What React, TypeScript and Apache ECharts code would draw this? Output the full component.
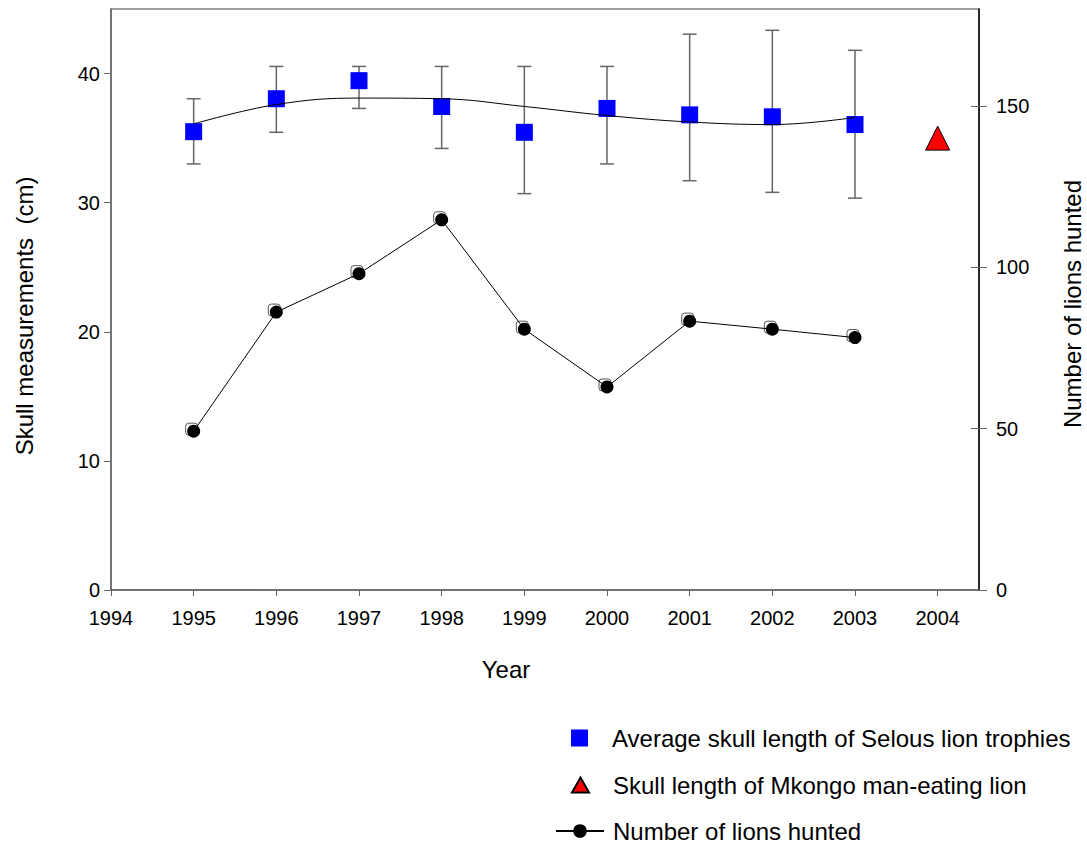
import React, { useEffect, useRef } from "react";
import * as echarts from "echarts";

const years = [1995, 1996, 1997, 1998, 1999, 2000, 2001, 2002, 2003];
const skullMean = [35.5, 38.05, 39.45, 37.45, 35.45, 37.3, 36.8, 36.65, 36.05];
const skullHigh = [38.05, 40.55, 40.55, 40.55, 40.55, 40.55, 43.05, 43.35, 41.8];
const skullLow = [33.0, 35.45, 37.3, 34.2, 30.7, 33.0, 31.7, 30.8, 30.35];
const skullTrend = [36.1, 37.6, 38.1, 38.05, 37.45, 36.75, 36.25, 36.05, 36.6];
const mkongoYear = [2004];
const mkongoSkull = [35.0];
const lionsHunted = [49.2, 86.1, 98.0, 114.7, 80.8, 62.9, 83.3, 80.8, 78.2];
const xTicks = [1994, 1995, 1996, 1997, 1998, 1999, 2000, 2001, 2002, 2003, 2004];
const leftTicks = [0, 10, 20, 30, 40];
const rightTicks = [0, 50, 100, 150];

const NAME_AVG = "Average skull length of Selous lion trophies";
const NAME_MK = "Skull length of Mkongo man-eating lion";
const NAME_LIONS = "Number of lions hunted";

const FONT = "Liberation Sans, Arial, sans-serif";

export default function App() {
  const ref = useRef<HTMLDivElement>(null);
  useEffect(() => {
    document.body.style.margin = "0";
    if (!ref.current) return;
    const chart = echarts.init(ref.current, null, { renderer: "svg" });
    const fmt = (v: number) => (Number.isInteger(v) ? String(v) : "");
    const legendText = (pad: number) => ({
      fontSize: 24,
      color: "#000",
      fontFamily: FONT,
      padding: [0, 0, 0, pad],
    });
    chart.setOption({
      animation: false,
      backgroundColor: "#ffffff",
      textStyle: { fontFamily: FONT },
      grid: {
        left: 111,
        top: 9,
        width: 868,
        height: 581,
        show: true,
        borderColor: "#808080",
        borderWidth: 1.5,
        backgroundColor: "transparent",
      },
      xAxis: {
        type: "value",
        min: 1994,
        max: 2004.5,
        interval: 1,
        splitLine: { show: false },
        axisLine: { show: true, lineStyle: { color: "#666666", width: 1.5 } },
        axisTick: { show: true, length: 6, customValues: xTicks, lineStyle: { color: "#666666", width: 1 } },
        axisLabel: {
          customValues: xTicks,
          formatter: fmt,
          color: "#000",
          fontSize: 20,
          margin: 18,
          fontFamily: FONT,
        },
      },
      yAxis: [
        {
          type: "value",
          min: 0,
          max: 45,
          interval: 5,
          position: "left",
          splitLine: { show: false },
          axisLine: { show: true, lineStyle: { color: "#666666", width: 1.5 } },
          axisTick: { show: true, length: 7, customValues: leftTicks, lineStyle: { color: "#666666" } },
          axisLabel: { customValues: leftTicks, formatter: fmt, color: "#000", fontSize: 20, margin: 11, fontFamily: FONT },
        },
        {
          type: "value",
          min: 0,
          max: 180,
          interval: 10,
          position: "right",
          splitLine: { show: false },
          axisLine: { show: true, lineStyle: { color: "#000000", width: 1.5 } },
          axisTick: { show: true, length: 8, customValues: rightTicks, lineStyle: { color: "#666666" } },
          axisLabel: { customValues: rightTicks, formatter: fmt, color: "#000", fontSize: 20, margin: 17, fontFamily: FONT },
        },
        {
          type: "value",
          min: 0,
          max: 180,
          interval: 10,
          position: "right",
          splitLine: { show: false },
          axisLine: { show: false },
          axisTick: { show: true, inside: true, length: 8, customValues: [50, 100, 150], lineStyle: { color: "#666666" } },
          axisLabel: { show: false },
        },
      ],
      legend: [
        {
          left: 571,
          top: 726,
          padding: 0,
          itemWidth: 17,
          itemHeight: 17,
          selectedMode: false,
          data: [NAME_AVG],
          textStyle: legendText(19),
        },
        {
          left: 571,
          top: 773,
          padding: 0,
          itemWidth: 17,
          itemHeight: 15,
          selectedMode: false,
          data: [NAME_MK],
          textStyle: legendText(19),
        },
        {
          left: 555,
          top: 819,
          padding: 0,
          itemWidth: 48,
          itemHeight: 17,
          selectedMode: false,
          data: [NAME_LIONS],
          textStyle: legendText(4),
        },
      ],
      graphic: [
        {
          type: "text",
          x: 24,
          y: 316,
          rotation: Math.PI / 2,
          style: {
            text: "Skull measurements  (cm)",
            fontSize: 24,
            fontFamily: FONT,
            fill: "#000",
            textAlign: "center",
            textVerticalAlign: "middle",
          },
        },
        {
          type: "text",
          x: 1072,
          y: 304,
          rotation: Math.PI / 2,
          style: {
            text: "Number of lions hunted",
            fontSize: 24,
            fontFamily: FONT,
            fill: "#000",
            textAlign: "center",
            textVerticalAlign: "middle",
          },
        },
        {
          type: "text",
          x: 506,
          y: 669,
          style: {
            text: "Year",
            fontSize: 24,
            fontFamily: FONT,
            fill: "#000",
            textAlign: "center",
            textVerticalAlign: "middle",
          },
        },
      ],
      series: [
        {
          type: "custom",
          name: "errorbars",
          xAxisIndex: 0,
          yAxisIndex: 0,
          z: 2,
          silent: true,
          encode: { x: 0, y: [1, 2] },
          data: years.map((y, i) => [y, skullLow[i], skullHigh[i]]),
          renderItem: (params: any, api: any) => {
            const x = api.value(0);
            const lo = api.coord([x, api.value(1)]);
            const hi = api.coord([x, api.value(2)]);
            const hw = 7;
            const style = { stroke: "#666666", lineWidth: 1.5 };
            return {
              type: "group",
              children: [
                { type: "line", shape: { x1: lo[0], y1: lo[1], x2: hi[0], y2: hi[1] }, style },
                { type: "line", shape: { x1: hi[0] - hw, y1: hi[1], x2: hi[0] + hw, y2: hi[1] }, style },
                { type: "line", shape: { x1: lo[0] - hw, y1: lo[1], x2: lo[0] + hw, y2: lo[1] }, style },
              ],
            };
          },
        },
        {
          type: "scatter",
          name: NAME_AVG,
          yAxisIndex: 0,
          z: 3,
          symbol: "rect",
          symbolSize: 17,
          itemStyle: { color: "#0000ff", opacity: 1 },
          data: years.map((y, i) => [y, skullMean[i]]),
        },
        {
          type: "line",
          name: "trend",
          yAxisIndex: 0,
          z: 4,
          smooth: 0.4,
          showSymbol: false,
          symbol: "none",
          lineStyle: { color: "#000", width: 1 },
          data: years.map((y, i) => [y, skullTrend[i]]),
        },
        {
          type: "scatter",
          name: NAME_MK,
          yAxisIndex: 0,
          z: 3,
          symbol: "triangle",
          symbolSize: [24, 24],
          itemStyle: { color: "#ff0000", borderColor: "#000", borderWidth: 1, opacity: 1 },
          data: mkongoYear.map((y, i) => [y, mkongoSkull[i]]),
        },
        {
          type: "scatter",
          name: "lionsShadow",
          yAxisIndex: 1,
          z: 2,
          symbol: "roundRect",
          symbolSize: 12,
          symbolOffset: [-2, -2],
          itemStyle: { color: "#ffffff", borderColor: "#555555", borderWidth: 1, opacity: 1 },
          data: years.map((y, i) => [y, lionsHunted[i]]),
        },
        {
          type: "line",
          name: NAME_LIONS,
          yAxisIndex: 1,
          z: 3,
          symbol: "circle",
          symbolSize: 13,
          showSymbol: true,
          itemStyle: { color: "#000" },
          lineStyle: { color: "#000", width: 1 },
          data: years.map((y, i) => [y, lionsHunted[i]]),
        },
      ],
    });
    return () => chart.dispose();
  }, []);
  return <div ref={ref} style={{ width: 1087, height: 845 }} />;
}
